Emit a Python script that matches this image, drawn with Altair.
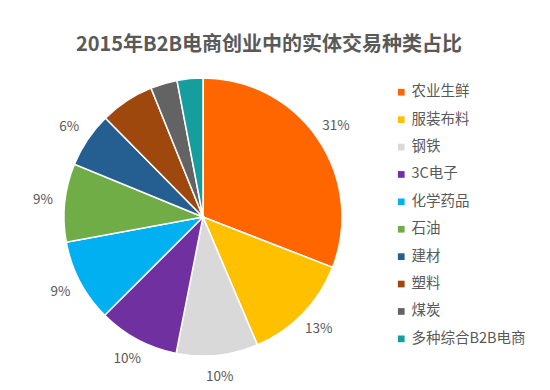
import altair as alt
import pandas as pd

categories = ["农业生鲜", "服装布料", "钢铁", "3C电子", "化学药品", "石油", "建材", "塑料", "煤炭", "多种综合B2B电商"]
values = [30.9, 12.7, 9.5, 9.4, 9.6, 9.1, 6.4, 6.3, 3.1, 3.0]
labels = ["31%", "13%", "10%", "10%", "9%", "9%", "6%", "", "", ""]
colors = ["#FF6600", "#FFC000", "#D9D9D9", "#7030A0", "#00B0F0", "#70AD47",
          "#255E91", "#9E480E", "#636363", "#169E9E"]
title_text = "2015年B2B电商创业中的实体交易种类占比"

df = pd.DataFrame({"cat": categories, "value": values, "label": labels,
                   "idx": list(range(len(categories)))})

FONT = "Noto Sans CJK SC"
CX, CY, R = 195, 209, 139

base = alt.Chart(df).encode(
    theta=alt.Theta("value:Q", stack=True),
    order=alt.Order("idx:Q"),
)

pie = base.mark_arc(radius=R, stroke="white", strokeWidth=1.5).encode(
    x=alt.value(CX), y=alt.value(CY),
    color=alt.Color("cat:N", sort=categories,
                    scale=alt.Scale(domain=categories, range=colors),
                    legend=alt.Legend(title=None, orient="none", legendX=386, legendY=77,
                                      symbolType="square", symbolSize=45, symbolStrokeWidth=0,
                                      labelFont=FONT, labelFontSize=14.5, labelColor="#595959",
                                      labelOffset=3, rowPadding=12.4)),
)

text = base.mark_text(radius=161, font=FONT, fontSize=13.5, color="#595959").encode(
    x=alt.value(CX), y=alt.value(CY), text="label:N"
)

title = alt.Chart(pd.DataFrame({"t": [title_text]})).mark_text(
    font=FONT, fontSize=20, fontWeight="bold", color="#595959"
).encode(x=alt.value(261), y=alt.value(37), text="t:N")

chart = alt.layer(pie, text, title).properties(
    width=534, height=381, autosize="none", padding=0
).configure_view(stroke=None)

chart.save("out.html", embed_options={"renderer": "svg", "actions": False})
